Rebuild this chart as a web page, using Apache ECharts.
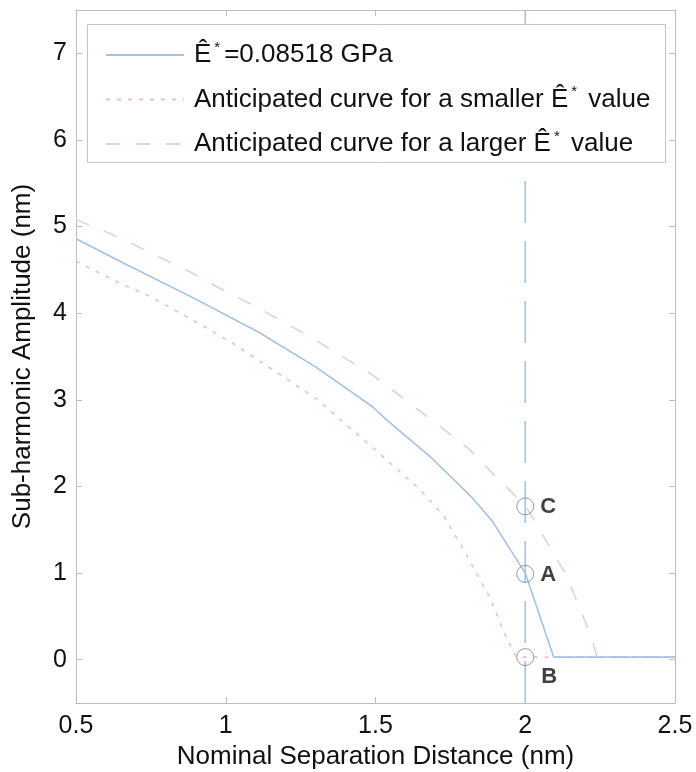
<!DOCTYPE html>
<html><head><meta charset="utf-8">
<script src="https://cdn.jsdelivr.net/npm/echarts@6/dist/echarts.min.js"></script>
<style>html,body{margin:0;padding:0;background:#fff}#c{width:696px;height:772px}</style>
</head><body><div id="c"></div>
<script>
// ---- data ----
const xTicks = [0.5, 1, 1.5, 2, 2.5];
const yTicks = [0, 1, 2, 3, 4, 5, 6, 7];

const mainX = [0.5, 0.67, 0.89, 1.11, 1.30, 1.49, 1.54, 1.69, 1.82, 1.89, 2.0, 2.095, 2.5];
const mainY = [4.86, 4.56, 4.18, 3.78, 3.38, 2.92, 2.76, 2.32, 1.88, 1.60, 1.0, 0.03, 0.03];

const smallX = [0.5, 0.65, 0.75, 0.93, 1.02, 1.30, 1.40, 1.50, 1.65, 1.73, 1.80, 1.88, 1.94, 1.97, 2.5];
const smallY = [4.60, 4.34, 4.19, 3.84, 3.66, 3.02, 2.72, 2.42, 1.96, 1.65, 1.23, 0.73, 0.23, 0.03, 0.03];

const largeX = [0.5, 0.64, 0.89, 1.0, 1.07, 1.15, 1.27, 1.48, 1.60, 1.81, 1.90, 2.0, 2.03, 2.08, 2.14, 2.18, 2.22, 2.24, 2.5];
const largeY = [5.08, 4.88, 4.46, 4.25, 4.13, 3.98, 3.75, 3.31, 3.00, 2.44, 2.12, 1.78, 1.61, 1.31, 0.96, 0.61, 0.27, 0.03, 0.03];

const refLineX = 2.0;

const pointNames = ['C', 'A', 'B'];
const pointX = [2.0, 2.0, 2.0];
const pointY = [1.77, 0.99, 0.03];

const seriesNames = ['main', 'smaller', 'larger'];
const legendTexts = {
  main: '{p|}{e|Ê}{s|*}{t|=0.08518 GPa}',
  smaller: '{p|}{t|Anticipated curve for a smaller }{e|Ê}{s|*}{t| value}',
  larger: '{p|}{t|Anticipated curve for a larger }{e|Ê}{s|*}{t| value}'
};

// ---- chart ----
const FONT = '"Liberation Sans", Arial, Helvetica, sans-serif';
const AX = '#bcbcbc';
const TXT = '#111';
const yMin = -0.5, yMax = 7.5, xMin = 0.5, xMax = 2.5;
const zip = (a, b) => a.map((v, i) => [v, b[i]]);

function axisBase(extra) {
  return Object.assign({
    type: 'value',
    axisLine: { show: true, onZero: false, lineStyle: { color: AX, width: 1 } },
    axisTick: { show: true, inside: true, length: 6, lineStyle: { color: AX } },
    splitLine: { show: false }
  }, extra);
}

const chart = echarts.init(document.getElementById('c'), null, { renderer: 'canvas' });
chart.setOption({
  animation: false,
  backgroundColor: '#fff',
  textStyle: { fontFamily: FONT },
  grid: { left: 76, right: 21, top: 10, bottom: 69, containLabel: false, outerBoundsMode: 'none' },
  xAxis: [
    axisBase({
      min: xMin, max: xMax, position: 'bottom',
      axisTick: { show: true, inside: true, length: 6, lineStyle: { color: AX }, customValues: xTicks },
      axisLabel: { show: true, customValues: xTicks, fontSize: 25, color: TXT, margin: 11, fontFamily: FONT },
      name: 'Nominal Separation Distance (nm)', nameLocation: 'middle', nameGap: 41,
      nameTextStyle: { fontSize: 26, color: TXT, fontFamily: FONT }
    }),
    axisBase({
      min: xMin, max: xMax, position: 'top',
      axisTick: { show: true, inside: true, length: 6, lineStyle: { color: AX }, customValues: xTicks },
      axisLabel: { show: false }
    })
  ],
  yAxis: [
    axisBase({
      min: yMin, max: yMax, position: 'left',
      axisTick: { show: true, inside: true, length: 6, lineStyle: { color: AX }, customValues: yTicks },
      axisLabel: { show: true, customValues: yTicks, fontSize: 25, color: TXT, margin: 9, fontFamily: FONT },
      name: 'Sub-harmonic Amplitude (nm)', nameLocation: 'middle', nameGap: 40,
      nameTextStyle: { fontSize: 26, color: TXT, fontFamily: FONT }
    }),
    axisBase({
      min: yMin, max: yMax, position: 'right',
      axisTick: { show: true, inside: true, length: 6, lineStyle: { color: AX }, customValues: yTicks },
      axisLabel: { show: false }
    })
  ],
  graphic: [{
    type: 'rect', left: 87, top: 24, z: 100, zlevel: 0,
    shape: { width: 578, height: 138 },
    style: { fill: '#fff', stroke: '#c4c4c4', lineWidth: 1 }
  }],
  legend: {
    data: seriesNames,
    orient: 'vertical', left: 105, top: 40, padding: 0, z: 200,
    itemWidth: 78, itemHeight: 10, itemGap: 16.5,
    itemStyle: { opacity: 0 },
    formatter: n => legendTexts[n],
    textStyle: {
      fontSize: 26, color: TXT, fontFamily: FONT,
      rich: {
        p: { width: 5, lineHeight: 30 },
        t: { fontSize: 26, color: TXT, fontFamily: FONT, lineHeight: 30 },
        e: { fontSize: 26, color: TXT, fontFamily: FONT, lineHeight: 30 },
        s: { fontSize: 15, color: TXT, fontFamily: FONT, lineHeight: 18, verticalAlign: 'top', padding: [0, 4, 0, 3] }
      }
    }
  },
  series: [
    {
      name: 'ref', type: 'line', xAxisIndex: 0, yAxisIndex: 0, silent: true, symbol: 'none',
      data: [[refLineX, yMin], [refLineX, yMax]],
      lineStyle: { color: '#a4c2e2', width: 1.6, type: [42, 18] }, z: 1
    },
    {
      name: 'larger', type: 'line', xAxisIndex: 0, yAxisIndex: 0, symbol: 'none',
      data: zip(largeX, largeY),
      lineStyle: { color: '#e6cfd3', width: 1.6, type: [14, 16] }, itemStyle: { color: '#e6cfd3' }, z: 2
    },
    {
      name: 'smaller', type: 'line', xAxisIndex: 0, yAxisIndex: 0, symbol: 'none',
      data: zip(smallX, smallY),
      lineStyle: { color: '#f1bdc7', width: 1.6, type: [4, 7] }, itemStyle: { color: '#f1bdc7' }, z: 2
    },
    {
      name: 'main', type: 'line', xAxisIndex: 0, yAxisIndex: 0, symbol: 'none',
      data: zip(mainX, mainY),
      lineStyle: { color: '#a4c2e2', width: 1.6 }, itemStyle: { color: '#a4c2e2' }, z: 3
    },
    {
      name: 'points', type: 'scatter', xAxisIndex: 0, yAxisIndex: 0, z: 4,
      symbol: 'circle', symbolSize: 17,
      itemStyle: { color: 'rgba(0,0,0,0)', borderColor: '#808080', borderWidth: 1 },
      data: pointNames.map((n, i) => ({
        name: n, value: [pointX[i], pointY[i]],
        label: {
          show: true, formatter: n, position: 'right', distance: 6,
          offset: n === 'B' ? [1, 20] : [0, 1],
          fontSize: 22, fontWeight: 'bold', color: TXT, fontFamily: FONT
        }
      }))
    }
  ]
});
</script>
</body></html>
